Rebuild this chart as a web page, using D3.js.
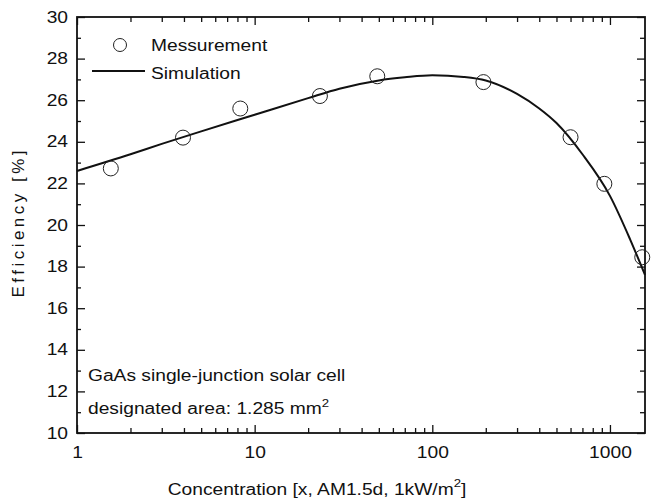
<!DOCTYPE html>
<html>
<head>
<meta charset="utf-8">
<script src="https://cdn.jsdelivr.net/npm/d3@7"></script>
<style>
  body { margin: 0; background: #fff; }
  text { font-family: "Liberation Sans", Arial, sans-serif; fill: #111; }
</style>
</head>
<body>
<div id="chart"></div>
<script>
// measured points
const measConc = [1.55, 3.95, 8.3, 23.3, 49, 194, 600, 930, 1520]
const measEff = [22.72, 24.2, 25.6, 26.2, 27.15, 26.87, 24.22, 21.98, 18.45]

// simulated curve
const simConc = [1, 2, 3, 5, 10, 20, 30, 50, 70, 100, 150, 200, 300, 400, 500, 700, 1000, 1300, 1575]
const simEff = [22.6, 23.4, 23.9, 24.5, 25.3, 26.1, 26.55, 26.95, 27.1, 27.2, 27.12, 26.95, 26.3, 25.6, 24.9, 23.4, 21.4, 19.3, 17.6]

const xTicks = [1, 10, 100, 1000]
const yTicks = [10, 12, 14, 16, 18, 20, 22, 24, 26, 28, 30]

const W = 657, H = 502
const margin = ({ top: 17, right: 12, bottom: 69, left: 77 })
const width = W - margin.left - margin.right,
    height = H - margin.top - margin.bottom;
const FS = 16, STRETCH = 1.2

const svg = d3.select("#chart").append("svg")
    .attr("width", W)
    .attr("height", H)

const g = svg.append("g")
    .attr("transform", "translate(" + margin.left + "," + margin.top + ")");

const x = d3.scaleLog().domain([1, 1575]).range([0, width])
const y = d3.scaleLinear().domain([10, 30]).range([height, 0])

// the scanned figure is a bit wider than tall, so widen glyphs
function stretch(sel, k) {
    sel.each(function () {
        const len = this.getComputedTextLength()
        d3.select(this).attr("textLength", len * k).attr("lengthAdjust", "spacingAndGlyphs")
    })
}

// minor log ticks
let minorX = []
for (let d = 1; d < 10000; d *= 10)
    for (let k = 2; k < 10; k++) if (d * k < 1575) minorX.push(d * k)
let minorY = d3.range(11, 30, 2)

// bottom axis
g.append("g")
    .attr("transform", `translate(0, ${height})`)
    .call(d3.axisBottom(x).tickValues(xTicks).tickFormat(d3.format("d")).tickSizeInner(-8).tickSizeOuter(0).tickPadding(14))
g.append("g")
    .attr("transform", `translate(0, ${height})`)
    .call(d3.axisBottom(x).tickValues(minorX).tickFormat("").tickSizeInner(-5).tickSizeOuter(0))

// top axis
g.append("g")
    .call(d3.axisTop(x).tickValues(xTicks).tickFormat("").tickSizeInner(-8).tickSizeOuter(0))
g.append("g")
    .call(d3.axisTop(x).tickValues(minorX).tickFormat("").tickSizeInner(-5).tickSizeOuter(0))

// left axis
g.append("g")
    .call(d3.axisLeft(y).tickValues(yTicks).tickSizeInner(-8).tickSizeOuter(0).tickPadding(9))
g.append("g")
    .call(d3.axisLeft(y).tickValues(minorY).tickFormat("").tickSizeInner(-4).tickSizeOuter(0))

// right axis
g.append("g")
    .attr("transform", `translate(${width}, 0)`)
    .call(d3.axisRight(y).tickValues(yTicks).tickFormat("").tickSizeInner(-8).tickSizeOuter(0))
g.append("g")
    .attr("transform", `translate(${width}, 0)`)
    .call(d3.axisRight(y).tickValues(minorY).tickFormat("").tickSizeInner(-5).tickSizeOuter(0))

g.selectAll(".domain").remove()
g.selectAll(".tick line").attr("stroke", "#111").attr("stroke-width", 1.3)
g.selectAll(".tick text").attr("font-size", FS).attr("fill", "#111")
    .attr("font-family", "'Liberation Sans', Arial, sans-serif")

g.append("rect")
    .attr("width", width)
    .attr("height", height)
    .attr("fill", "none")
    .attr("stroke", "#111")
    .attr("stroke-width", 1.8)

// simulation line
const line = d3.line()
    .x(i => x(simConc[i]))
    .y(i => y(simEff[i]))
    .curve(d3.curveMonotoneX)

g.append("path")
    .attr("d", line(d3.range(simConc.length)))
    .attr("fill", "none")
    .attr("stroke", "#111")
    .attr("stroke-width", 2)

// measurements
g.selectAll(".meas")
    .data(measConc)
    .join("circle")
    .attr("class", "meas")
    .attr("cx", d => x(d))
    .attr("cy", (d, i) => y(measEff[i]))
    .attr("r", 7.5)
    .attr("fill", "none")
    .attr("stroke", "#222")
    .attr("stroke-width", 1)

// legend
const leg = g.append("g")
leg.append("circle").attr("cx", 43).attr("cy", 28).attr("r", 6.5)
    .attr("fill", "none").attr("stroke", "#222").attr("stroke-width", 1)
leg.append("text").attr("x", 74).attr("y", 34).attr("font-size", FS).text("Messurement")
leg.append("line").attr("x1", 15).attr("x2", 68).attr("y1", 54).attr("y2", 54)
    .attr("stroke", "#111").attr("stroke-width", 2)
leg.append("text").attr("x", 74).attr("y", 62).attr("font-size", FS).text("Simulation")

// annotation
g.append("text").attr("x", 11).attr("y", 364).attr("font-size", FS)
    .text("GaAs single-junction solar cell")
const ann = g.append("text").attr("x", 11).attr("y", 397).attr("font-size", FS)
ann.append("tspan").text("designated area: 1.285 mm")
ann.append("tspan").attr("dy", -7).attr("font-size", 11).text("2")

// axis titles
const xt = svg.append("text")
    .attr("x", 317).attr("y", 495)
    .attr("text-anchor", "middle")
    .attr("font-size", FS)
xt.append("tspan").text("Concentration [x, AM1.5d, 1kW/m")
xt.append("tspan").attr("dy", -8).attr("font-size", 11).text("2")
xt.append("tspan").attr("dy", 8).text("]")

const yt = svg.append("text")
    .attr("transform", "translate(24, 224) rotate(-90)")
    .attr("text-anchor", "middle")
    .attr("font-size", 17)
    .text("Efficiency [%]")

stretch(svg.selectAll("text").filter(function () { return this !== yt.node() }), STRETCH)
yt.attr("textLength", 147).attr("lengthAdjust", "spacing")
</script>
</body>
</html>
